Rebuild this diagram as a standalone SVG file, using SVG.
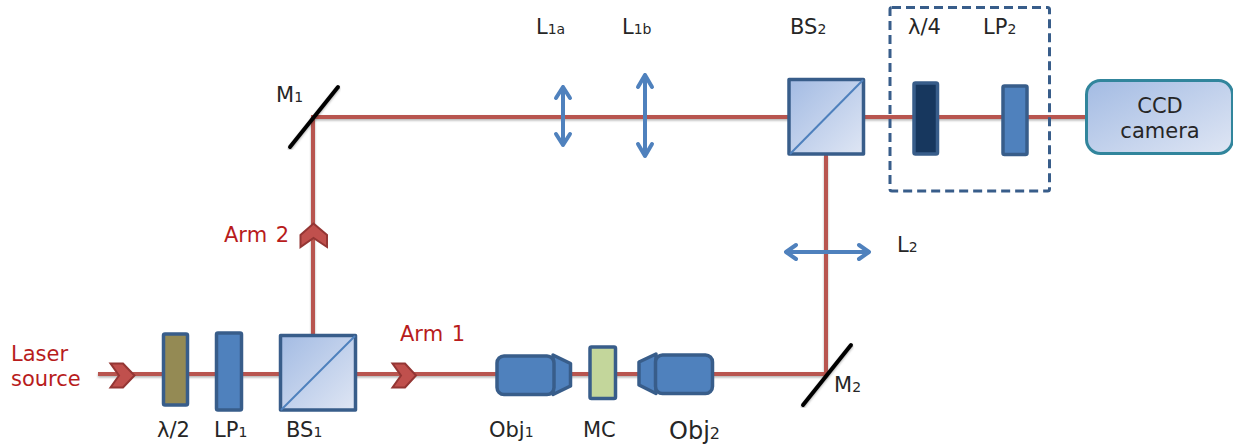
<svg xmlns="http://www.w3.org/2000/svg" width="1233" height="444" viewBox="0 0 1233 444">
<style>
text{font-family:"DejaVu Sans","Liberation Sans",sans-serif;font-size:21px;fill:#262626}
.r{fill:#b81c1c;word-spacing:2px}
.s{font-size:14px}
.beam{fill:none;stroke:#b85450;stroke-width:4;filter:url(#sh)}
.opt{stroke:#385d8a;stroke-width:3.500;stroke-linejoin:round}
.blue{fill:#4f81bd}
.chev{fill:#c0504d;stroke:#943634;stroke-width:2;stroke-linejoin:miter}
.lens{fill:none;stroke:#4f81bd;stroke-width:4;stroke-linecap:round;stroke-linejoin:round}
.mirror{stroke:#000;stroke-width:4;stroke-linecap:round;filter:url(#sh)}
.cube{fill:url(#g);stroke:#385d8a;stroke-width:3.500;stroke-linejoin:round}
.diag{stroke:#4f81bd;stroke-width:2}
</style>
<defs>
<linearGradient id="g" x1="0" y1="0" x2="1" y2="1"><stop offset="0" stop-color="#a3bbe3"/><stop offset="1" stop-color="#dfe6f4"/></linearGradient>
<linearGradient id="g2" x1="0" y1="0" x2="1" y2="1"><stop offset="0" stop-color="#a3bbe3"/><stop offset="1" stop-color="#dfe6f4"/></linearGradient>
<filter id="sh" x="-5%" y="-5%" width="110%" height="110%"><feDropShadow dx="0" dy="1.500" stdDeviation="1" flood-color="#000" flood-opacity="0.3"/></filter>
</defs>
<g id="connectors">
<path class="beam" d="M98 374H826V155"/>
<path class="beam" d="M313 335V117H1087"/>
</g>
<g id="laser-label"><text class="r" x="11" y="361">Laser</text><text class="r" x="11" y="386">source</text></g>
<g id="chevron-laser"><polygon class="chev" points="110.500,363.500 123,363.500 134.500,375.500 123,387.500 110.500,387.500 119,375.500"/></g>
<g id="waveplate-half"><rect class="opt" x="163.500" y="334" width="24" height="71" rx="1.500" fill="#948a54"/><text x="157" y="437">λ/2</text></g>
<g id="lp1"><rect class="opt blue" x="216.500" y="333" width="25" height="77" rx="1.500"/><text x="214" y="437">LP<tspan class="s">1</tspan></text></g>
<g id="bs1"><rect class="cube" x="280.500" y="335.500" width="75" height="74.500"/><line class="diag" x1="281" y1="410" x2="355" y2="336"/><text x="286" y="437">BS<tspan class="s">1</tspan></text></g>
<g id="chevron-arm1"><polygon class="chev" points="392.500,363.500 405,363.500 416,375.500 405,387.500 392.500,387.500 401,375.500"/></g>
<g id="arm1-label"><text class="r" x="400" y="341">Arm 1</text></g>
<g id="chevron-arm2"><polygon class="chev" points="313.500,223.500 327,235 327,247 313.500,238 300.500,247 300.500,235"/></g>
<g id="arm2-label"><text class="r" x="224" y="242">Arm 2</text></g>
<g id="obj1"><path class="opt blue" d="M553 355L570.500 363.500V386L553 394.500Z"/><rect class="opt blue" x="497" y="356" width="57" height="38.500" rx="7"/><text x="489" y="437">Obj<tspan class="s">1</tspan></text></g>
<g id="mc"><rect class="opt" x="590" y="347" width="25.500" height="51.500" rx="1.500" fill="#c3d69b"/><text x="583" y="437">MC</text></g>
<g id="obj2"><path class="opt blue" d="M656 354L639 362V385L656 393.500Z"/><rect class="opt blue" x="655.500" y="355" width="57" height="38.500" rx="7"/><text x="669" y="439" style="font-size:24px">Obj<tspan class="s" style="font-size:16px">2</tspan></text></g>
<g id="m2"><line class="mirror" x1="851" y1="345" x2="803" y2="405"/><text x="834" y="392">M<tspan class="s">2</tspan></text></g>
<g id="l2"><path class="lens" d="M786 252H869M796 245L786 252L796 259M859 245L869 252L859 259"/><text x="897" y="252">L<tspan class="s">2</tspan></text></g>
<g id="m1"><line class="mirror" x1="338" y1="87" x2="290" y2="147"/><text x="276" y="102">M<tspan class="s">1</tspan></text></g>
<g id="l1a"><path class="lens" d="M563 87V145M556 98L563 87L570 98M556 134L563 145L570 134"/><text x="536" y="34">L<tspan class="s">1a</tspan></text></g>
<g id="l1b"><path class="lens" d="M645 75V156M638 87L645 75L652 87M638 144L645 156L652 144"/><text x="622" y="34">L<tspan class="s">1b</tspan></text></g>
<g id="bs2"><rect class="cube" x="789" y="79.500" width="74.500" height="74.500"/><line class="diag" x1="790" y1="154" x2="863" y2="80"/><text x="790" y="34">BS<tspan class="s">2</tspan></text></g>
<g id="detection-box"><rect x="890" y="7.500" width="159.500" height="183.500" rx="2" fill="none" stroke="#385d8a" stroke-width="3" stroke-dasharray="9 5"/></g>
<g id="waveplate-quarter"><rect class="opt" x="914" y="83" width="23.500" height="71" rx="1.500" fill="#17375e"/><text x="908" y="34">λ/4</text></g>
<g id="lp2"><rect class="opt blue" x="1003" y="86" width="24" height="68.500" rx="1.500"/><text x="983" y="34">LP<tspan class="s">2</tspan></text></g>
<g id="ccd"><rect x="1086.500" y="80.500" width="146" height="73" rx="14" fill="url(#g2)" stroke="#31859c" stroke-width="3"/><text x="1160" y="113" text-anchor="middle">CCD</text><text x="1160" y="138" text-anchor="middle">camera</text></g>
</svg>
